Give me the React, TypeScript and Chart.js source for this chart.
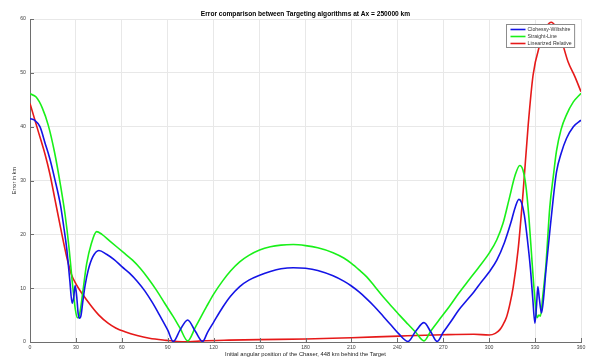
import React, { useEffect, useRef } from "react";
import { Chart, registerables } from "chart.js";

Chart.register(...registerables);

const chartTitle = "Error comparison between Targeting algorithms at Ax = 250000 km";
const xTitle = "Initial angular position of the Chaser, 448 km behind the Target";
const yTitle = "Error in km";
const seriesNames = ["Clohessy-Wiltshire", "Straight-Line", "Linearized Relative"];
const seriesColors = ["#1414e6", "#19f019", "#e61919"];

const cwAngles = [0, 3, 6.5, 10, 13, 16, 20, 22, 24, 26, 27.5, 28.5, 29.5, 30.5, 31.5, 32.3, 33.3, 34.5, 36, 38, 41, 45, 50, 55, 60, 65, 70, 75, 80, 85, 90, 93.6, 98, 103, 108, 112.8, 116, 120, 126, 131, 137, 143, 150, 157, 164, 172, 180, 188, 198, 205, 210, 215, 220, 225, 231, 236, 241, 247, 252, 257.4, 262, 266, 270, 275, 280, 285, 290, 295, 300, 305, 310, 314, 317, 319.4, 321, 323, 325, 327, 328.5, 329.9, 331, 331.8, 332.8, 334.2, 335.5, 337, 339.6, 342, 344, 347, 350.5, 355, 360];
const cwErrors = [41.5, 41.2, 40.0, 36.8, 34.0, 30.5, 25.3, 21.5, 17.3, 11.5, 7.2, 8.2, 10.5, 8.5, 5.2, 4.4, 4.9, 7.5, 10.5, 13.3, 15.8, 17.0, 16.3, 15.3, 14.0, 12.8, 11.3, 9.5, 7.3, 4.8, 2.2, 0.1, 2.2, 4.1, 2.0, 0.1, 1.8, 3.7, 6.5, 8.5, 10.3, 11.5, 12.4, 13.1, 13.6, 13.8, 13.7, 13.3, 12.3, 11.3, 10.4, 9.3, 8.0, 6.6, 4.7, 3.1, 1.5, 0.1, 2.0, 3.6, 1.8, 0.1, 1.8, 3.8, 5.9, 7.6, 9.3, 11.2, 13.0, 15.2, 18.5, 22, 25, 26.5, 26.0, 23.5, 19, 13.5, 8, 3.5, 7, 10.3, 8, 5.4, 8, 13, 20.5, 27, 31.6, 35, 37.8, 40, 41.2];

const slAngles = [0, 4, 8, 12, 16, 20, 23, 25.5, 27.5, 29.5, 31, 32.5, 34.5, 37, 40, 43.5, 47, 52, 57, 62, 67, 72, 77, 82.7, 88, 93.6, 98, 103, 108, 115.4, 120, 126, 131, 137, 143, 150, 157, 164, 172, 180, 188, 198, 205, 210, 215, 220, 225, 231, 236, 241.7, 247, 252, 257.4, 262, 267, 274, 280, 287, 293, 300, 305, 309, 313, 317, 320, 322, 324, 326, 328, 330, 331.3, 332.5, 333.5, 335, 337, 339.6, 342, 344, 347, 350.5, 355, 360];
const slErrors = [46.1, 45.5, 43.5, 40.2, 35.3, 29, 23.5, 17.5, 11.5, 6.3, 4.5, 5.3, 9.3, 14.5, 18.2, 20.5, 20.0, 18.8, 17.6, 16.4, 15.2, 13.7, 11.9, 9.6, 7.2, 4.7, 2.6, 0.2, 2.7, 6.6, 8.9, 11.4, 13.2, 14.9, 16.1, 17.1, 17.7, 18.0, 18.1, 17.9, 17.5, 16.6, 15.6, 14.6, 13.4, 12.1, 10.4, 8.3, 6.7, 4.9, 3.3, 1.8, 0.2, 2.1, 4.0, 6.6, 9.0, 11.6, 13.8, 16.5, 19, 22, 26.5, 31, 32.8, 32, 29, 23, 15, 7.5, 4.5, 5.0, 4.8, 8.5, 14, 25, 31, 35.5, 39.5, 42.2, 44.6, 46.2];

const lrAngles = [0, 5, 10, 13, 16.3, 20, 24, 27, 30, 34, 40, 45, 51, 56, 62, 70, 78, 89, 96, 104, 112, 130, 150, 180, 210, 241, 270, 290, 300, 304, 307, 309, 311.3, 313.5, 315.7, 319, 322.2, 325.5, 328.7, 333.1, 337.5, 340.7, 343, 346.2, 351.6, 356, 360];
const lrErrors = [44.3, 39.5, 34.7, 31.2, 26.5, 21.2, 15.8, 12.6, 10.8, 9.0, 6.7, 5.0, 3.5, 2.6, 1.9, 1.2, 0.7, 0.3, 0.1, 0.05, 0.2, 0.35, 0.45, 0.55, 0.8, 1.1, 1.35, 1.45, 1.3, 1.6, 2.3, 3.2, 4.6, 7, 10.2, 17.4, 27.9, 40.3, 49.6, 55.2, 58.6, 59.4, 58.8, 57, 52, 49.3, 46.5];

const xTicks = [0, 30, 60, 90, 120, 150, 180, 210, 240, 270, 300, 330, 360];
const yTicks = [0, 10, 20, 30, 40, 50, 60];

const FONT = "'Liberation Sans', Arial, Helvetica, sans-serif";

const toPoints = (xs: number[], ys: number[]) => xs.map((x, i) => ({ x, y: ys[i] }));

const decorPlugin = {
  id: "decor",
  afterDraw(chart: any) {
    const { ctx, chartArea, scales } = chart;
    const xs = scales.x;
    const ys = scales.y;
    ctx.save();
    // inward ticks
    ctx.strokeStyle = "#6e6e6e";
    ctx.lineWidth = 1;
    ctx.beginPath();
    xTicks.forEach((t) => {
      const px = Math.round(xs.getPixelForValue(t)) + 0.5;
      ctx.moveTo(px, chartArea.bottom);
      ctx.lineTo(px, chartArea.bottom - 4);
    });
    yTicks.forEach((t) => {
      const py = Math.round(ys.getPixelForValue(t)) + 0.5;
      ctx.moveTo(chartArea.left, py);
      ctx.lineTo(chartArea.left + 4, py);
    });
    ctx.stroke();

    // title
    ctx.fillStyle = "#000";
    ctx.font = `bold 6.6px ${FONT}`;
    ctx.textAlign = "center";
    ctx.textBaseline = "middle";
    ctx.fillText(chartTitle, (chartArea.left + chartArea.right) / 2, 14);

    // legend
    ctx.font = `5.2px ${FONT}`;
    const textW = Math.max(...seriesNames.map((n) => ctx.measureText(n).width));
    const lineLen = 15;
    const boxW = 4 + lineLen + 2 + textW + 3;
    const boxH = 23;
    const bx = Math.round(chartArea.right - 7 - boxW) + 0.5;
    const by = 24.5;
    ctx.fillStyle = "#ffffff";
    ctx.fillRect(bx, by, boxW, boxH);
    ctx.strokeStyle = "#8c8c8c";
    ctx.lineWidth = 1;
    ctx.strokeRect(bx, by, boxW, boxH);
    seriesNames.forEach((name, i) => {
      const cy = by + 5 + i * 7;
      ctx.strokeStyle = seriesColors[i];
      ctx.lineWidth = 1.6;
      ctx.beginPath();
      ctx.moveTo(bx + 4, cy);
      ctx.lineTo(bx + 4 + lineLen, cy);
      ctx.stroke();
      ctx.fillStyle = "#333";
      ctx.textAlign = "left";
      ctx.textBaseline = "middle";
      ctx.fillText(name, bx + 4 + lineLen + 2, cy);
    });
    ctx.restore();
  },
};

export default function App() {
  const ref = useRef<HTMLCanvasElement | null>(null);
  useEffect(() => {
    if (!ref.current) return;
    const datasets = [
      toPoints(cwAngles, cwErrors),
      toPoints(slAngles, slErrors),
      toPoints(lrAngles, lrErrors),
    ].map((data, i) => ({
      label: seriesNames[i],
      data,
      borderColor: seriesColors[i],
      backgroundColor: seriesColors[i],
      borderWidth: 1.6,
      pointRadius: 0,
      cubicInterpolationMode: "monotone" as const,
      fill: false,
    }));
    const chart = new Chart(ref.current, {
      type: "line",
      data: { datasets },
      options: {
        animation: false,
        responsive: false,
        maintainAspectRatio: false,
        layout: { padding: { left: 0, right: 15, top: 19, bottom: 0 } },
        plugins: { legend: { display: false }, title: { display: false }, tooltip: { enabled: false } },
        scales: {
          x: {
            type: "linear",
            min: 0,
            max: 360,
            afterFit: (s: any) => { s.height = 16; },
            afterBuildTicks: (s: any) => { s.ticks = xTicks.map((v) => ({ value: v })); },
            ticks: { autoSkip: false, maxRotation: 0, padding: 2, color: "#444", font: { family: FONT, size: 5.2 } },
            grid: { color: "#e8e8e8", drawTicks: false, lineWidth: 1 },
            border: { color: "#6e6e6e", width: 1 },
            title: { display: true, text: xTitle, color: "#222", padding: { top: 0, bottom: 0 }, font: { family: FONT, size: 5.8 } },
          },
          y: {
            type: "linear",
            min: 0,
            max: 60,
            afterFit: (s: any) => { s.width = 30; },
            afterBuildTicks: (s: any) => { s.ticks = yTicks.map((v) => ({ value: v })); },
            ticks: { padding: 4, color: "#444", font: { family: FONT, size: 5.2 } },
            grid: { color: "#e8e8e8", drawTicks: false, lineWidth: 1 },
            border: { color: "#6e6e6e", width: 1 },
            title: { display: true, text: yTitle, color: "#222", padding: { top: 11.5, bottom: 0 }, font: { family: FONT, size: 5.6 } },
          },
        },
      },
      plugins: [decorPlugin],
    });
    return () => chart.destroy();
  }, []);
  return (
    <div style={{ position: "fixed", left: 0, top: 0, width: 596, height: 358, background: "#fff" }}>
      <canvas ref={ref} width={596} height={358} style={{ width: 596, height: 358, display: "block" }} />
    </div>
  );
}
